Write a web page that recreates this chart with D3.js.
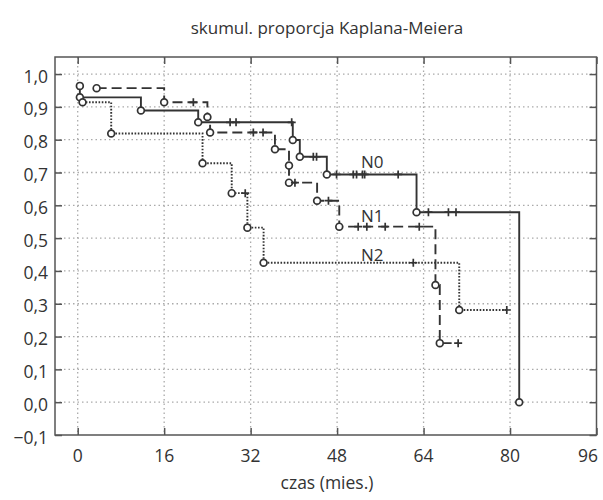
<!DOCTYPE html>
<html><head><meta charset="utf-8">
<script src="https://cdn.jsdelivr.net/npm/d3@7"></script>
<style>
body{margin:0;background:#fff;}
text{font-family:"Open Sans","Noto Sans",sans-serif;fill:#333;}
</style></head>
<body>
<svg id="c" width="603" height="500"></svg>
<script>
const titleText = "skumul. proporcja Kaplana-Meiera";
const xLabelText = "czas (mies.)";
const xTicks = [0, 16, 32, 48, 64, 80, 96];
const yTicks = [-0.1, 0, 0.1, 0.2, 0.3, 0.4, 0.5, 0.6, 0.7, 0.8, 0.9, 1.0];
const seriesNames = ["N0", "N1", "N2"];

const n0Time = [0.4, 0.4, 11.7, 22.3, 28.2, 29.3, 39.6, 39.8, 41.1, 43.6, 44.2, 46.1, 47.9, 51.0, 51.6, 52.7, 53.1, 59.3, 62.7, 64.9, 68.6, 70.0, 81.7];
const n0Surv = [0.964, 0.929, 0.889, 0.853, 0.853, 0.853, 0.853, 0.799, 0.748, 0.748, 0.748, 0.694, 0.694, 0.694, 0.694, 0.694, 0.694, 0.694, 0.579, 0.579, 0.579, 0.579, 0.0];
const n0Cens = [0,0,0,0,1,1,1,0,0,1,1,0,1,1,1,1,1,1,0,1,1,1,0];

const n1Time = [3.5, 16.0, 21.4, 24.0, 24.5, 32.5, 34.3, 36.5, 39.1, 39.1, 40.2, 44.3, 46.4, 48.4, 51.9, 53.5, 56.9, 63.2, 66.2, 67.0, 70.4];
const n1Surv = [0.957, 0.914, 0.914, 0.869, 0.822, 0.822, 0.822, 0.771, 0.721, 0.669, 0.669, 0.614, 0.614, 0.535, 0.535, 0.535, 0.535, 0.535, 0.357, 0.180, 0.180];
const n1Cens = [0,0,1,0,0,1,1,0,0,0,1,0,1,0,1,1,1,1,0,0,1];

const n2Time = [0.9, 6.2, 23.1, 28.5, 31.0, 31.4, 34.4, 62.1, 70.6, 79.4];
const n2Surv = [0.914, 0.819, 0.728, 0.637, 0.637, 0.532, 0.425, 0.425, 0.281, 0.281];
const n2Cens = [0,0,0,0,1,0,0,1,0,1];

// label anchor values (time, survival) for series names
const labelTime = [54.5, 54.5, 54.5];
const labelSurv = [0.713, 0.550, 0.430];

const svg = d3.select("#c");
const L = 55, R = 596.5, T = 57, B = 435;
const x = d3.scaleLinear().domain([-4.2, 96]).range([L, R]);
const y = d3.scaleLinear().domain([-0.1, 1.052]).range([B, T]);
const ink = "#333";
const fmt = v => (v < 0 ? "\u2212" : "") + Math.abs(v).toFixed(1).replace(".", ",");

// grid
const g = svg.append("g");
xTicks.filter(v => v < 96).forEach(v => {
  g.append("line").attr("x1", x(v)).attr("x2", x(v)).attr("y1", T).attr("y2", B)
   .attr("stroke", "#aaa").attr("stroke-width", 1.3).attr("stroke-dasharray", "1.5,3");
});
yTicks.filter(v => v > -0.1).forEach(v => {
  g.append("line").attr("x1", L).attr("x2", R).attr("y1", y(v)).attr("y2", y(v))
   .attr("stroke", "#aaa").attr("stroke-width", 1.3).attr("stroke-dasharray", "1.5,3");
});

// axes (ticks inward) using d3 axes
const styleAxis = a => { a.select(".domain").remove(); a.selectAll("line").attr("stroke", "#555").attr("stroke-width", 1.5); };
svg.append("g").attr("transform", `translate(0,${B})`)
  .call(d3.axisBottom(x).tickValues(xTicks).tickSize(-7).tickFormat("")).call(styleAxis);
svg.append("g").attr("transform", `translate(0,${T})`)
  .call(d3.axisTop(x).tickValues(xTicks).tickSize(-7).tickFormat("")).call(styleAxis);
svg.append("g").attr("transform", `translate(${L},0)`)
  .call(d3.axisLeft(y).tickValues(yTicks).tickSize(-7).tickFormat("")).call(styleAxis);
svg.append("g").attr("transform", `translate(${R},0)`)
  .call(d3.axisRight(y).tickValues(yTicks).tickSize(-7).tickFormat("")).call(styleAxis);

// tick labels
yTicks.forEach(v => {
  svg.append("text").attr("x", 48).attr("y", y(v) + 8.5).attr("text-anchor", "end")
    .attr("font-size", 17.5).text(fmt(v));
});
xTicks.forEach(v => {
  const px = v === 96 ? 588 : x(v);
  svg.append("text").attr("x", px).attr("y", 462).attr("text-anchor", "middle")
    .attr("font-size", 17.5).text(v);
});

svg.append("text").attr("x", 327).attr("y", 34).attr("text-anchor", "middle")
  .attr("font-size", 17).text(titleText);
svg.append("text").attr("x", 327).attr("y", 489).attr("text-anchor", "middle")
  .attr("font-size", 17.5).text(xLabelText);

// curves
const series = [
  {t: n0Time, s: n0Surv, c: n0Cens, dash: null, w: 1.9},
  {t: n1Time, s: n1Surv, c: n1Cens, dash: "10,5", w: 1.9},
  {t: n2Time, s: n2Surv, c: n2Cens, dash: "1.6,1.6", w: 1.9}
];
const line = d3.line().x(d => x(d[0])).y(d => y(d[1])).curve(d3.curveStepAfter);
series.forEach(sr => {
  const pts = sr.t.map((t, i) => [t, sr.s[i], sr.c[i]]);
  svg.append("path").attr("d", line(pts)).attr("fill", "none")
    .attr("stroke", ink).attr("stroke-width", sr.w)
    .attr("stroke-dasharray", sr.dash);
  sr.pts = pts;
});
series.forEach(sr => {
  sr.pts.forEach(p => {
    if (p[2]) {
      const cx = x(p[0]), cy = y(p[1]);
      svg.append("path").attr("d", `M${cx},${cy-4}V${cy+4}M${cx-4},${cy}H${cx+4}`)
        .attr("stroke", ink).attr("stroke-width", 1.7).attr("fill", "none");
    } else {
      svg.append("circle").attr("cx", x(p[0])).attr("cy", y(p[1])).attr("r", 3.4)
        .attr("fill", "#fff").attr("stroke", ink).attr("stroke-width", 1.7);
    }
  });
});

// frame
svg.append("rect").attr("x", L).attr("y", T).attr("width", R - L).attr("height", B - T)
  .attr("fill", "none").attr("stroke", "#555").attr("stroke-width", 1.5);

// series labels
seriesNames.forEach((n, i) => {
  svg.append("text").attr("x", x(labelTime[i])).attr("y", y(labelSurv[i]))
    .attr("text-anchor", "middle").attr("font-size", 17).text(n);
});
</script>
</body></html>
